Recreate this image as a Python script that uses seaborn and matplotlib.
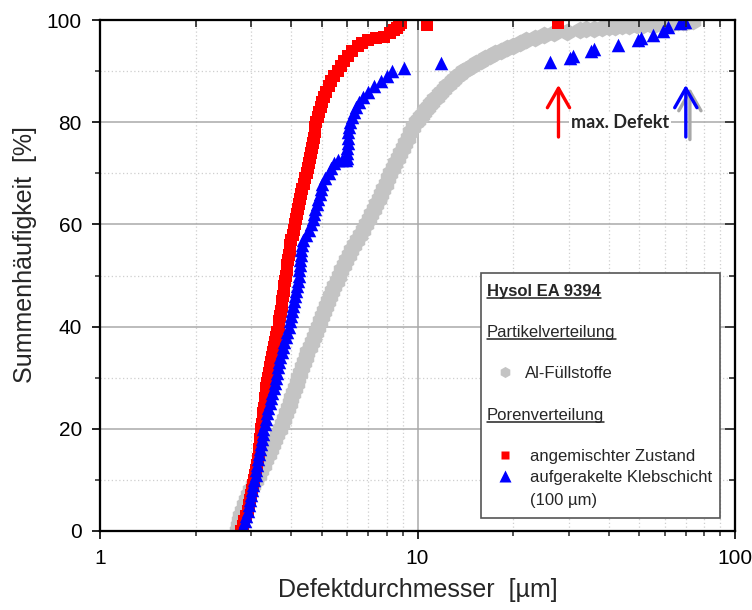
import matplotlib
matplotlib.use("Agg")
import matplotlib.pyplot as plt
import pandas as pd
import seaborn as sns
from matplotlib.lines import Line2D
from matplotlib.patches import Rectangle
from matplotlib.ticker import NullFormatter
from matplotlib.transforms import IdentityTransform

sns.set_style("white")
plt.rcParams["font.family"] = ["Liberation Sans", "DejaVu Sans"]

# ---- Al filler particle distribution (cumulative %, diameter in um) ----
filler_pct = [0, 1, 2, 3, 4, 5, 6, 7, 8, 9, 10, 11, 12, 13, 14, 15, 16, 17, 18, 19,
              20, 21, 22, 23, 24, 25, 26, 27, 28, 29, 30, 31, 32, 33, 34, 35, 36, 37,
              38, 39, 40, 41, 42, 43, 44, 45, 46, 47, 48, 49, 50, 51, 52, 53, 54, 55,
              56, 57, 58, 59, 60, 61, 62, 63, 64, 65, 66, 67, 68, 69, 70, 71, 72, 73,
              74, 75, 76, 77, 78, 79, 80, 80.5, 81, 81.5, 82, 82.5, 83, 83.5, 84, 84.5,
              85, 85.5, 86, 86.5, 87, 87.5, 88, 88.5, 89, 89.5, 90, 90.5, 91, 91.5, 92,
              92.5, 93, 93.5, 94, 94.5, 95, 95.5, 96, 96.5, 97, 97.4, 97.7, 98.0, 98.15,
              98.3, 98.45, 98.6, 98.7, 98.8, 98.9, 99.0, 99.08, 99.15, 99.22, 99.3,
              99.38, 99.45, 99.52, 99.6, 99.68, 99.75, 99.9]
filler_d = [2.70, 2.72, 2.74, 2.77, 2.80, 2.84, 2.88, 2.92, 2.97, 3.03, 3.10, 3.16, 3.22,
            3.28, 3.34, 3.40, 3.45, 3.51, 3.56, 3.62, 3.68, 3.74, 3.80, 3.86, 3.91, 3.96,
            4.01, 4.06, 4.11, 4.16, 4.21, 4.26, 4.32, 4.38, 4.44, 4.50, 4.57, 4.64, 4.71,
            4.78, 4.86, 4.93, 5.00, 5.07, 5.14, 5.22, 5.30, 5.38, 5.47, 5.56, 5.65, 5.75,
            5.85, 5.96, 6.07, 6.19, 6.32, 6.46, 6.60, 6.75, 6.90, 7.03, 7.16, 7.29, 7.42,
            7.55, 7.68, 7.81, 7.94, 8.07, 8.20, 8.35, 8.50, 8.65, 8.80, 8.97, 9.15, 9.32,
            9.50, 9.70, 9.90, 10.05, 10.2, 10.35, 10.5, 10.65, 10.8, 10.95, 11.1, 11.3,
            11.5, 11.7, 11.9, 12.1, 12.3, 12.55, 12.8, 13.05, 13.3, 13.6, 13.9, 14.35,
            14.8, 15.3, 15.8, 16.35, 16.9, 17.6, 18.3, 19.1, 20.0, 21.0, 22.0, 23.5,
            25.0, 27.0, 29.5, 32.5, 34.0, 36.0, 38.0, 40.0, 42.0, 44.0, 46.5, 49.0,
            51.5, 54.0, 56.5, 59.0, 61.5, 64.0, 66.3, 68.5, 70.0, 71.5, 74.0]

# ---- pores, mixed state ----
mixed_pct = [0, 1, 2, 3, 4, 5, 6, 7, 8, 9, 10, 11, 12, 13, 14, 15, 16, 17, 18, 19,
             20, 21, 22, 23, 24, 25, 26, 27, 28, 29, 30, 31, 32, 33, 34, 35, 36, 37,
             38, 39, 40, 41, 42, 43, 44, 45, 46, 47, 48, 49, 50, 51, 52, 53, 54, 55,
             56, 57, 58, 59, 60, 61, 62, 63, 64, 65, 66, 67, 68, 69, 70, 71, 72, 73,
             74, 75, 76, 77, 78, 79, 80, 81, 82, 83, 84, 85, 86, 87, 88, 89, 90,
             91, 92, 93, 94, 95, 95.5, 96, 96.5, 96.7, 97.5, 98, 98.5, 99, 99.5,
             99.0, 99.5]
mixed_d = [2.78, 2.82, 2.85, 2.89, 2.92, 2.95, 2.97, 3.00, 3.02, 3.04, 3.06, 3.08, 3.10,
           3.12, 3.14, 3.16, 3.17, 3.19, 3.20, 3.21, 3.22, 3.24, 3.25, 3.27, 3.28, 3.30,
           3.31, 3.33, 3.34, 3.36, 3.38, 3.40, 3.42, 3.45, 3.47, 3.50, 3.53, 3.56, 3.59,
           3.62, 3.65, 3.67, 3.69, 3.71, 3.73, 3.75, 3.77, 3.79, 3.81, 3.83, 3.85, 3.87,
           3.89, 3.91, 3.93, 3.96, 3.98, 4.01, 4.04, 4.07, 4.10, 4.13, 4.16, 4.19, 4.22,
           4.25, 4.29, 4.33, 4.38, 4.43, 4.48, 4.52, 4.56, 4.60, 4.63, 4.66, 4.69, 4.72,
           4.74, 4.77, 4.80, 4.85, 4.90, 4.96, 5.02, 5.08, 5.15, 5.25, 5.35, 5.47, 5.60,
           5.75, 5.88, 6.05, 6.24, 6.50, 6.70, 7.00, 7.40, 7.85, 8.20, 8.43, 8.60, 8.76,
           8.90, 10.7, 27.8]

# ---- pores, doctor-bladed adhesive layer (100 um) ----
layer_pct = [0, 1, 2, 3, 4, 5, 6, 7, 8, 9, 10, 11, 12, 13, 14, 15, 16, 17, 18, 19,
             20, 21, 22, 23, 24, 25, 26, 27, 28, 29, 30, 31, 32, 33, 34, 35, 36, 37,
             38, 39, 40, 41, 42, 43, 44, 45, 46, 47, 48, 49, 50, 51, 52, 53, 54, 55,
             56, 57, 58, 59, 60, 61, 62, 63, 64, 65, 66, 67, 68, 69, 70, 71, 72,
             72.6, 72.6, 72.6, 73, 74, 75, 76, 77, 78, 79, 80, 81, 82, 83, 84, 85, 86,
             87, 88, 89, 90, 90.6, 91.6,
             91.8, 92.6, 93.0, 94.0, 94.4, 95.1, 96.0, 96.4, 97.0, 97.8, 98.6, 99.4, 99.7]
layer_d = [2.80, 2.83, 2.86, 2.89, 2.92, 2.95, 2.97, 3.00, 3.02, 3.04, 3.06, 3.09, 3.11,
           3.13, 3.15, 3.17, 3.19, 3.21, 3.23, 3.25, 3.27, 3.30, 3.33, 3.36, 3.39, 3.42,
           3.46, 3.49, 3.52, 3.55, 3.58, 3.61, 3.64, 3.67, 3.70, 3.73, 3.76, 3.80, 3.85,
           3.89, 3.93, 3.97, 4.00, 4.03, 4.06, 4.09, 4.12, 4.15, 4.17, 4.20, 4.22, 4.24,
           4.26, 4.28, 4.30, 4.31, 4.33, 4.35, 4.45, 4.54, 4.62, 4.67, 4.72, 4.77, 4.82,
           4.87, 4.92, 4.97, 5.02, 5.12, 5.25, 5.35, 5.45,
           5.60, 5.80, 5.95, 6.00, 6.00, 6.01, 6.02, 6.03, 6.05, 6.10, 6.15, 6.22, 6.30,
           6.42, 6.55, 6.75, 7.00, 7.30, 7.70, 8.00, 8.30, 9.10, 11.9,
           26.1, 30.3, 30.8, 35.3, 36.0, 42.7, 49.4, 50.5, 55.3, 59.3, 61.5, 67.2, 69.7]

# largest defect per series
max_mixed = 27.8
max_layer = 70.0
max_filler = 72.1

x_ticks = [1, 10, 100]
x_ticklabels = ["1", "10", "100"]
y_ticks = [0, 20, 40, 60, 80, 100]

GRAY = "#c4c4c4"
RED = "#ff0000"
BLUE = "#0000ff"

W, H = 752, 610
fig = plt.figure(figsize=(W / 100, H / 100), dpi=100)
ax = fig.add_axes([100 / W, 79 / H, 635 / W, 511 / H])
ax.set_xscale("log")

df_f = pd.DataFrame({"d": filler_d, "p": filler_pct})
df_m = pd.DataFrame({"d": mixed_d, "p": mixed_pct})
df_l = pd.DataFrame({"d": layer_d, "p": layer_pct})

sns.scatterplot(data=df_f, x="d", y="p", marker="h", s=165, color=GRAY,
                linewidth=0, ax=ax, legend=False, zorder=2)
sns.scatterplot(data=df_m, x="d", y="p", marker="s", s=64, color=RED,
                linewidth=0, ax=ax, legend=False, zorder=3)
sns.scatterplot(data=df_l, x="d", y="p", marker="^", s=95, color=BLUE,
                linewidth=0, ax=ax, legend=False, zorder=4)

ax.set_xlim(1, 100)
ax.set_ylim(0, 100)
minor_x = [2, 3, 4, 5, 6, 7, 8, 9, 20, 30, 40, 50, 60, 70, 80, 90]
minor_y = [10, 30, 50, 70, 90]
ax.set_xticks(x_ticks, labels=x_ticklabels)
ax.set_xticks(minor_x, minor=True)
ax.xaxis.set_minor_formatter(NullFormatter())
ax.set_yticks(y_ticks, labels=[str(v) for v in y_ticks])
ax.set_yticks(minor_y, minor=True)

ax.set_axisbelow(True)
ax.grid(which="major", color="#a9a9a9", lw=1.1, ls="-")
ax.grid(which="minor", color="#cfcfcf", lw=0.9, ls=(0, (1, 2)))

ax.tick_params(which="major", direction="out", length=6, width=1.2,
               labelsize=15, pad=7, colors="black")
ax.tick_params(which="minor", direction="out", length=3.5, width=1.1)
ax.set_xlabel("Defektdurchmesser  [µm]", fontsize=18)
ax.set_ylabel("Summenhäufigkeit  [%]", fontsize=18)
ax.xaxis.set_label_coords(0.5, -0.115)
ax.xaxis.label.set_va("center")
ax.yaxis.set_label_coords(-0.118, 0.54)
ax.yaxis.label.set_va("center")

# mirrored top / right ticks pointing inward
axt = ax.twiny()
axt.set_xscale("log")
axt.set_xlim(1, 100)
axt.set_xticks(x_ticks)
axt.set_xticks(minor_x, minor=True)
axt.tick_params(which="both", direction="in", labeltop=False, width=1.2)
axt.tick_params(which="major", length=7)
axt.tick_params(which="minor", length=5)
axr = ax.twinx()
axr.set_ylim(0, 100)
axr.set_yticks(y_ticks)
axr.set_yticks(minor_y, minor=True)
axr.tick_params(which="both", direction="in", labelright=False, width=1.2)
axr.tick_params(which="major", length=7)
axr.tick_params(which="minor", length=4)
for a in (ax, axt, axr):
    for sp in a.spines.values():
        sp.set_color("black")
        sp.set_linewidth(1.5)

# max-defect arrows
arrow_style = "->, head_length=0.7, head_width=0.4"
for xv, c, tip, tail in [(max_filler, "#a8a8a8", 86.7, 76.6),
                         (max_mixed, RED, 87.3, 77.1),
                         (max_layer, BLUE, 87.3, 77.1)]:
    ax.annotate("", xy=(xv, tip), xytext=(xv, tail),
                arrowprops=dict(arrowstyle=arrow_style, color=c, lw=2.4,
                                shrinkA=0, shrinkB=0, mutation_scale=20),
                zorder=6)
ax.text(43.4, 80, "max. Defekt", fontsize=13, fontweight="bold",
        family=["Lato", "DejaVu Sans"], ha="center", va="center", zorder=6,
        bbox=dict(facecolor="white", edgecolor="none", pad=1.5))


# legend box in figure pixels (origin top-left)
def fx(px):
    return px / W


def fy(py):
    return 1 - py / H


fig.add_artist(Rectangle((fx(481), fy(518)), fx(720) - fx(481), fy(273) - fy(518),
                         transform=fig.transFigure, facecolor="white",
                         edgecolor="#555555", lw=1.2, zorder=5))

headers = []
headers.append((fig.text(fx(487), fy(296), "Hysol EA 9394", fontsize=12,
                         fontweight="bold", va="baseline", zorder=6), 296))
headers.append((fig.text(fx(487), fy(337), "Partikelverteilung", fontsize=12,
                         va="baseline", zorder=6), 337))
headers.append((fig.text(fx(487), fy(420), "Porenverteilung", fontsize=12,
                         va="baseline", zorder=6), 420))
fig.text(fx(525), fy(377.5), "Al-Füllstoffe", fontsize=12, va="baseline", zorder=6)
fig.text(fx(530), fy(460.5), "angemischter Zustand", fontsize=12, va="baseline", zorder=6)
fig.text(fx(530), fy(482), "aufgerakelte Klebschicht", fontsize=12, va="baseline", zorder=6)
fig.text(fx(530), fy(505), "(100 µm)", fontsize=12, va="baseline", zorder=6)

for mk, ms, col, py in [("h", 8.0, GRAY, 372), ("s", 6.0, RED, 455), ("^", 8.0, BLUE, 476)]:
    fig.add_artist(Line2D([fx(505)], [fy(py)], marker=mk, ms=ms, color=col,
                          mec="none", ls="none", transform=fig.transFigure, zorder=6))

fig.canvas.draw()
renderer = fig.canvas.get_renderer()
for t, base in headers:
    bb = t.get_window_extent(renderer)
    yline = H - base - 1.8
    fig.add_artist(Line2D([bb.x0, bb.x1], [yline, yline], color="#222222", lw=1.1,
                          transform=IdentityTransform(), zorder=6))

fig.savefig("out.png", dpi=100)
